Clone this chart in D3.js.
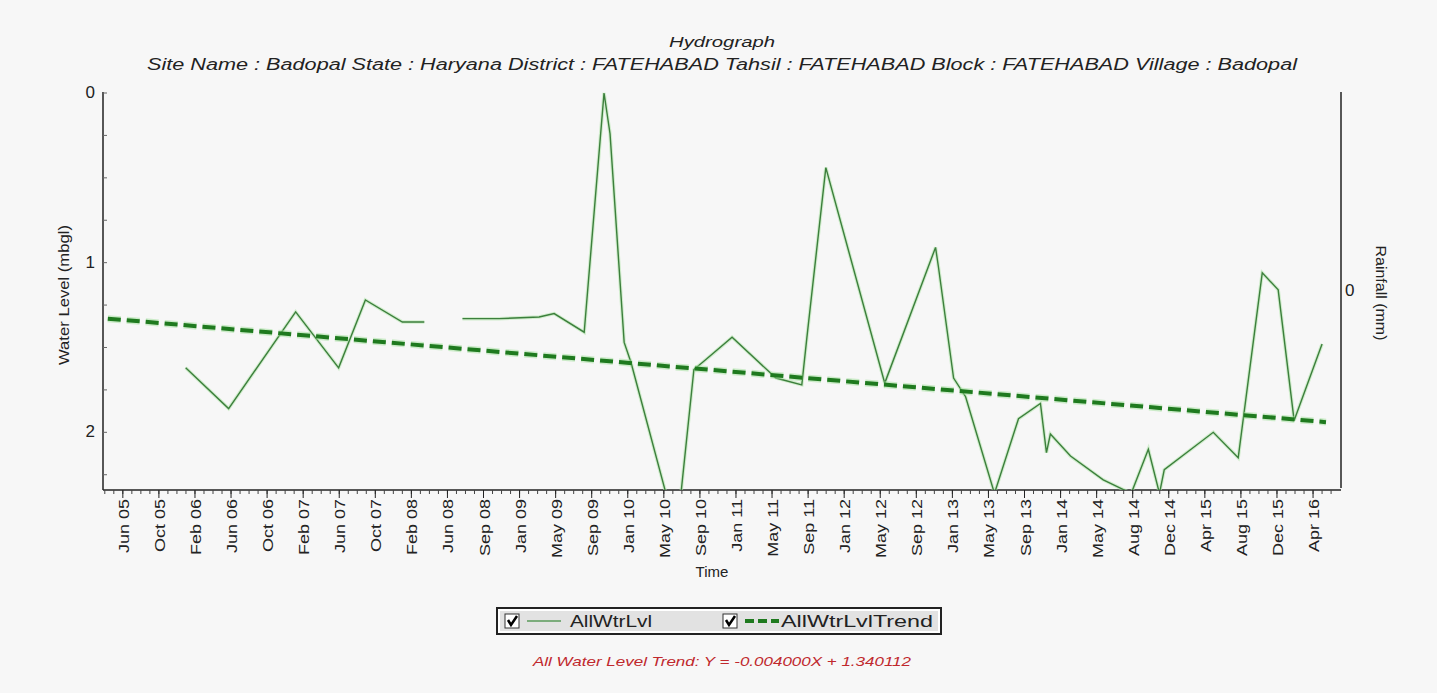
<!DOCTYPE html>
<html>
<head>
<meta charset="utf-8">
<script src="https://cdn.jsdelivr.net/npm/d3@7/dist/d3.min.js"></script>
<style>
  body { margin: 0; background: #fff; }
  svg { font-family: "Liberation Sans", Arial, sans-serif; }
</style>
</head>
<body>
<div id="chart"></div>
<script>
// water level readings (mbgl); null = no reading
var levelDates = ['2006-01-12','2006-06-04','2007-01-13','2007-06-05','2007-09-02','2008-01-03','2008-03-16','2008-05-20',
  '2008-07-21','2008-11-20','2009-04-02','2009-05-22','2009-08-30','2009-11-04','2009-11-24','2010-01-10','2010-02-02',
  '2010-05-29','2010-07-18','2010-08-30','2010-10-03','2011-01-04','2011-05-30','2011-08-24','2011-09-10','2011-11-12',
  '2012-05-26','2012-11-11','2012-11-21','2013-01-10','2013-02-19','2013-05-26','2013-08-14','2013-10-26','2013-11-15',
  '2013-11-28','2014-02-03','2014-05-23','2014-08-24','2014-10-20','2014-11-26','2014-12-12','2015-05-24','2015-08-15',
  '2015-11-03','2015-12-26','2016-02-17','2016-05-20'];
var levelValues = [1.62, 1.86, 1.29, 1.62, 1.22, 1.35, 1.35, null,
  1.33, 1.33, 1.32, 1.30, 1.41, 0.0, 0.24, 1.47, 1.59,
  2.36, 2.36, 1.63, 1.58, 1.44, 1.68, 1.72, 1.44, 0.44,
  1.71, 0.91, 1.03, 1.68, 1.79, 2.36, 1.92, 1.83, 2.12,
  2.01, 2.14, 2.28, 2.36, 2.10, 2.36, 2.22, 2.00, 2.15,
  1.06, 1.16, 1.93, 1.48];

// trend line end points
var trendDates = ['2005-04-28', '2016-06-02'];
var trendValues = [1.33, 1.94];

// x tick labels, one every 120 days from 17 Jun 2005
var tickLabels = ['Jun 05','Oct 05','Feb 06','Jun 06','Oct 06','Feb 07','Jun 07','Oct 07','Feb 08','Jun 08',
  'Sep 08','Jan 09','May 09','Sep 09','Jan 10','May 10','Sep 10','Jan 11','May 11','Sep 11','Jan 12','May 12',
  'Sep 12','Jan 13','May 13','Sep 13','Jan 14','May 14','Aug 14','Dec 14','Apr 15','Aug 15','Dec 15','Apr 16'];
var tickStart = '2005-06-17', tickStepDays = 120;
var yTickLabels = [0, 1, 2];

var parse = d3.timeParse('%Y-%m-%d');
var level = levelDates.map(function(d, i) { return { date: parse(d), value: levelValues[i] }; });
var trend = trendDates.map(function(d, i) { return { date: parse(d), value: trendValues[i] }; });
var t0 = parse(tickStart);
var ticks = tickLabels.map(function(l, i) { return d3.timeDay.offset(t0, i * tickStepDays); });
var minorTicks = d3.range((tickLabels.length - 1) * 4 + 5).map(function(i) { return d3.timeDay.offset(t0, (i - 2) * 30); });

var width = 1437, height = 693;
var m = { left: 103, right: 1341, top: 92, bottom: 490 };

var svg = d3.select('#chart').append('svg')
  .attr('width', width).attr('height', height);

svg.append('rect').attr('width', width).attr('height', height).attr('fill', '#f7f7f7');

var x = d3.scaleTime()
  .domain([parse('2005-04-12'), parse('2016-07-22')])
  .range([m.left, m.right]);
var y = d3.scaleLinear().domain([0, 2.34]).range([m.top + 1, m.bottom]);

svg.append('clipPath').attr('id', 'clip')
  .append('rect').attr('x', m.left).attr('y', m.top).attr('width', m.right - m.left).attr('height', m.bottom - m.top);

// titles
svg.append('text').attr('x', 722).attr('y', 47).attr('text-anchor', 'middle')
  .attr('font-size', 15).attr('font-style', 'italic').attr('fill', '#222')
  .attr('textLength', 106).attr('lengthAdjust', 'spacingAndGlyphs').text('Hydrograph');
svg.append('text').attr('x', 722).attr('y', 70).attr('text-anchor', 'middle')
  .attr('font-size', 16).attr('font-style', 'italic').attr('fill', '#222')
  .attr('textLength', 1150).attr('lengthAdjust', 'spacingAndGlyphs')
  .text('Site Name : Badopal State : Haryana District : FATEHABAD Tahsil : FATEHABAD Block : FATEHABAD Village : Badopal');

// left axis
var yAxis = svg.append('g').attr('transform', 'translate(' + m.left + ',0)');
yAxis.append('line').attr('y1', m.top).attr('y2', m.bottom).attr('stroke', '#222').attr('stroke-width', 1.5);
yAxis.selectAll('.minor').data(d3.range(0, 2.34, 0.25)).enter().append('line')
  .attr('x1', 0).attr('x2', 4).attr('y1', function(d) { return y(d); }).attr('y2', function(d) { return y(d); })
  .attr('stroke', '#666');
yAxis.selectAll('text').data(yTickLabels).enter().append('text')
  .attr('x', -8).attr('y', function(d) { return y(d) + 5; }).attr('text-anchor', 'end')
  .attr('font-size', 17).attr('fill', '#222').text(function(d) { return d; });
svg.append('text').attr('transform', 'translate(69,' + 295 + ') rotate(-90)')
  .attr('text-anchor', 'middle').attr('font-size', 14).attr('fill', '#222')
  .attr('textLength', 140).attr('lengthAdjust', 'spacingAndGlyphs').text('Water Level (mbgl)');

// right axis (rainfall)
svg.append('line').attr('x1', m.right).attr('x2', m.right).attr('y1', m.top).attr('y2', m.bottom - 2)
  .attr('stroke', '#222').attr('stroke-width', 1.5);
svg.append('text').attr('x', m.right + 4).attr('y', 296).attr('font-size', 17).attr('fill', '#222').text('0');
svg.append('text').attr('transform', 'translate(1376,' + 293 + ') rotate(90)')
  .attr('text-anchor', 'middle').attr('font-size', 14).attr('fill', '#222')
  .attr('textLength', 95).attr('lengthAdjust', 'spacingAndGlyphs').text('Rainfall (mm)');

// bottom axis
var xAxis = svg.append('g').attr('transform', 'translate(0,' + m.bottom + ')');
xAxis.append('line').attr('x1', m.left).attr('x2', m.right).attr('stroke', '#222').attr('stroke-width', 1.5);
xAxis.selectAll('.minor').data(minorTicks.filter(function(d) { return x(d) > m.left && x(d) < m.right; }))
  .enter().append('line')
  .attr('x1', function(d) { return x(d); }).attr('x2', function(d) { return x(d); })
  .attr('y1', 0).attr('y2', 4).attr('stroke', '#444');
xAxis.selectAll('.major').data(ticks).enter().append('line')
  .attr('x1', function(d) { return x(d); }).attr('x2', function(d) { return x(d); })
  .attr('y1', 0).attr('y2', 8).attr('stroke', '#222');
xAxis.selectAll('text').data(ticks).enter().append('text')
  .attr('transform', function(d) { return 'translate(' + (x(d) + 6) + ',9) rotate(-90) scale(1.2,1)'; })
  .attr('text-anchor', 'end').attr('font-size', 15).attr('fill', '#222')
  .text(function(d, i) { return tickLabels[i]; });
svg.append('text').attr('x', 712).attr('y', 577).attr('text-anchor', 'middle')
  .attr('font-size', 15).attr('fill', '#222').text('Time');

// series
var line = d3.line()
  .defined(function(d) { return d.value !== null; })
  .x(function(d) { return x(d.date); })
  .y(function(d) { return y(d.value); });

var plot = svg.append('g').attr('clip-path', 'url(#clip)');
plot.append('path').datum(level).attr('d', line).attr('fill', 'none')
  .attr('stroke', '#b8e6b0').attr('stroke-width', 3.5).attr('stroke-opacity', 0.6);
plot.append('path').datum(level).attr('d', line).attr('fill', 'none')
  .attr('stroke', '#3c7f3c').attr('stroke-width', 1.4);

plot.append('path').datum(trend).attr('d', line).attr('fill', 'none')
  .attr('stroke', '#9fe09a').attr('stroke-width', 7).attr('stroke-opacity', 0.5)
  .attr('stroke-dasharray', '13,6');
plot.append('path').datum(trend).attr('d', line).attr('fill', 'none')
  .attr('stroke', '#1f7a1f').attr('stroke-width', 4)
  .attr('stroke-dasharray', '13,6');

// legend
var lg = svg.append('g').attr('transform', 'translate(497,608)');
lg.append('rect').attr('width', 444).attr('height', 26).attr('fill', '#fff')
  .attr('stroke', '#222').attr('stroke-width', 2);
lg.append('rect').attr('x', 3).attr('y', 3).attr('width', 438).attr('height', 20).attr('fill', '#e2e2e2');
var items = [
  { x: 8, name: 'AllWtrLvl', dashed: false },
  { x: 226, name: 'AllWtrLvlTrend', dashed: true }
];
var it = lg.selectAll('.item').data(items).enter().append('g')
  .attr('transform', function(d) { return 'translate(' + d.x + ',0)'; });
it.append('rect').attr('x', 0).attr('y', 6).attr('width', 14).attr('height', 14)
  .attr('fill', '#fff').attr('stroke', '#333');
it.append('path').attr('d', 'M3,12 L6,17 L12,8').attr('fill', 'none').attr('stroke', '#000').attr('stroke-width', 2.5);
it.append('line').attr('x1', 22).attr('x2', 56).attr('y1', 13).attr('y2', 13)
  .attr('stroke', function(d) { return d.dashed ? '#1f7a1f' : '#5a9a5a'; })
  .attr('stroke-width', function(d) { return d.dashed ? 4 : 1.4; })
  .attr('stroke-dasharray', function(d) { return d.dashed ? '9,4' : null; });
it.append('text').attr('x', function(d) { return d.dashed ? 58 : 65; }).attr('y', 19)
  .attr('font-size', 16).attr('fill', '#222')
  .attr('textLength', function(d) { return d.dashed ? 152 : 82; }).attr('lengthAdjust', 'spacingAndGlyphs')
  .text(function(d) { return d.name; });

svg.append('text').attr('x', 722).attr('y', 666).attr('text-anchor', 'middle')
  .attr('font-size', 13).attr('font-style', 'italic').attr('fill', '#c0282d')
  .attr('textLength', 378).attr('lengthAdjust', 'spacingAndGlyphs')
  .text('All Water Level Trend: Y = -0.004000X + 1.340112');
</script>
</body>
</html>
